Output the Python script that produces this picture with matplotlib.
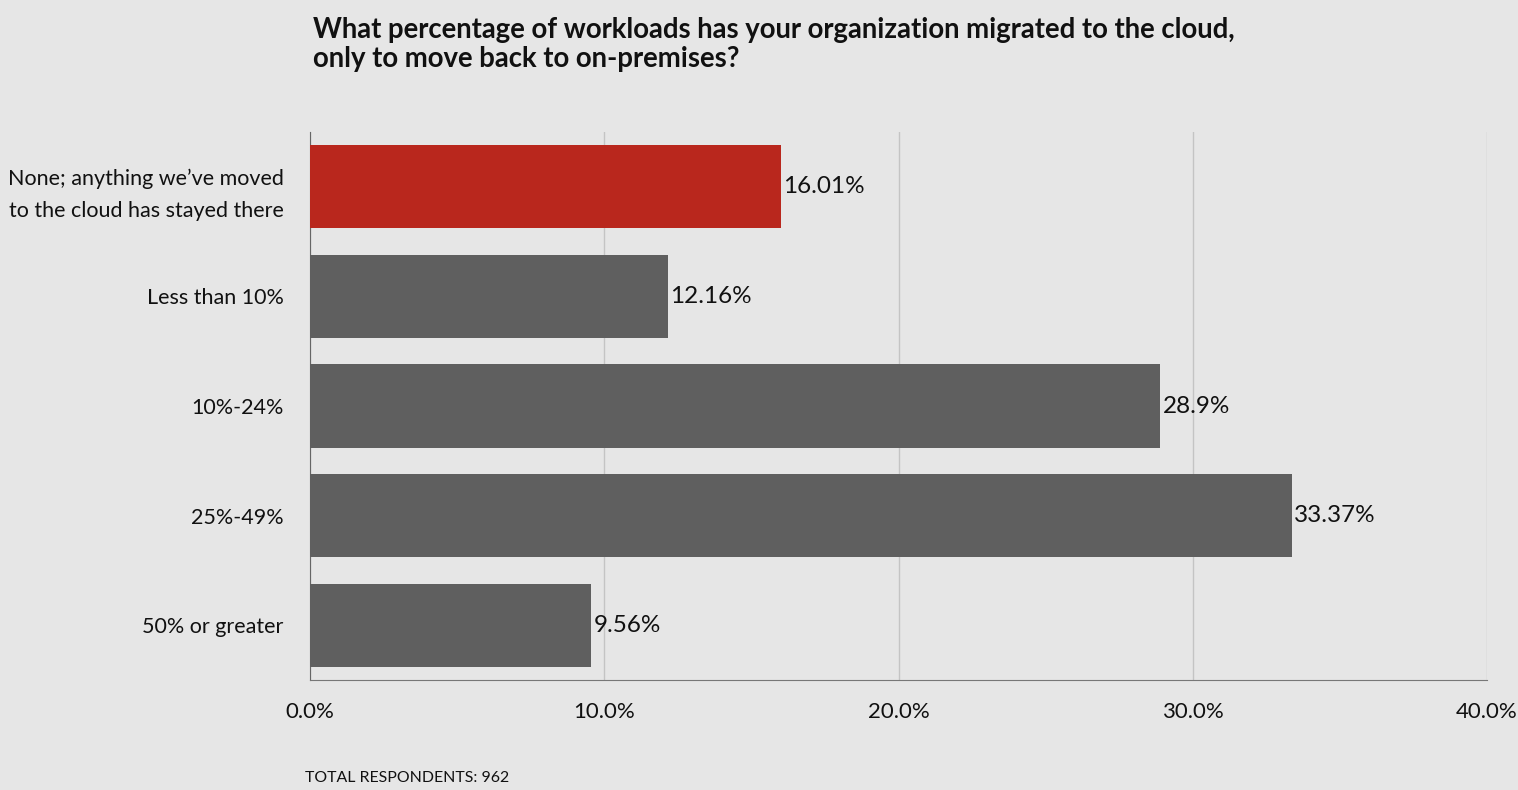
import matplotlib.pyplot as plt
from matplotlib.ticker import FuncFormatter

# data
categories = ["None; anything we\u2019ve moved\nto the cloud has stayed there",
              "Less than 10%", "10%-24%", "25%-49%", "50% or greater"]
values = [16.01, 12.16, 28.9, 33.37, 9.56]
value_labels = ["16.01%", "12.16%", "28.9%", "33.37%", "9.56%"]
bar_colors = ["#b9271d", "#5f5f5f", "#5f5f5f", "#5f5f5f", "#5f5f5f"]
xticks = [0, 10, 20, 30, 40]

plt.rcParams['font.family'] = ['Lato', 'DejaVu Sans']
bg = "#e6e6e6"

fig = plt.figure(figsize=(15.18, 7.9), dpi=100, facecolor=bg)
ax = fig.add_axes([310 / 1518, 1 - 680 / 790, (1487 - 310) / 1518, (680 - 132) / 790])
ax.set_facecolor(bg)

ypos = list(range(len(categories)))
ax.barh(ypos, values, height=0.76, color=bar_colors, zorder=3)
for y, v, lab in zip(ypos, values, value_labels):
    ax.text(v + 0.08, y, lab, va='center', ha='left', fontsize=17.5, color='#111111', zorder=4)

ax.set_xlim(0, 40)
ax.set_ylim(4.5, -0.5)
ax.set_xticks(xticks)
ax.xaxis.set_major_formatter(FuncFormatter(lambda x, p: f"{x:.1f}%"))
ax.set_yticks(ypos)
ax.set_yticklabels(categories, fontsize=15.5, color='#111111', linespacing=1.75)
ax.tick_params(axis='x', length=0, pad=16, labelsize=16, labelcolor='#111111')
ax.tick_params(axis='y', length=0, pad=19)
ax.grid(axis='x', color='#c4c4c4', linewidth=1, zorder=0)

for s in ['top', 'right']:
    ax.spines[s].set_visible(False)
ax.spines['left'].set_color('#666666')
ax.spines['bottom'].set_color('#777777')

fig.text(313 / 1518, 1 - 17 / 790,
         "What percentage of workloads has your organization migrated to the cloud,\nonly to move back to on-premises?",
         ha='left', va='top', fontsize=19.8, fontweight='bold', color='#111111', linespacing=1.15)
fig.text(305 / 1518, 1 - 778 / 790, "TOTAL RESPONDENTS: 962",
         ha='left', va='center', fontsize=11.4, color='#111111')

fig.savefig('out.png', dpi=100, facecolor=bg)
